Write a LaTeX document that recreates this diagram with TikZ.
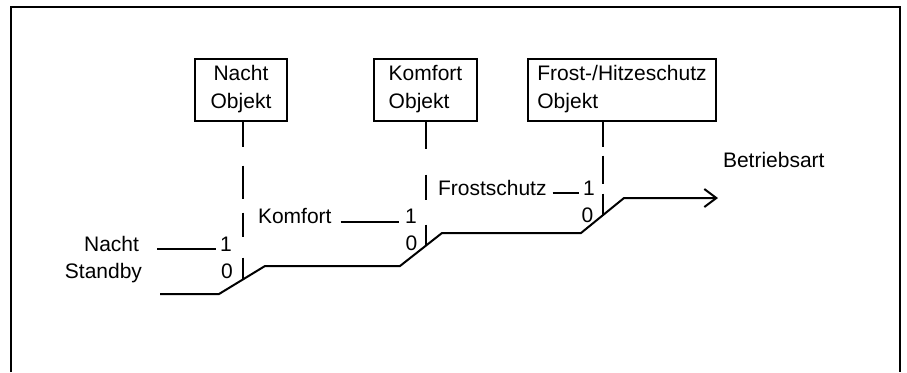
\documentclass[tikz,border=0pt]{standalone}
\usepackage{fontspec}
\setmainfont{Liberation Sans}
\usetikzlibrary{arrows.meta}
\begin{document}
\begin{tikzpicture}[x=0.5pt,y=-0.5pt,line width=1pt,
        objbox/.style={draw,rectangle,inner sep=0pt,minimum height=31pt,
                       font=\fontsize{10.5}{14}\selectfont},
        lbl/.style={inner sep=0pt,font=\fontsize{10.5}{14}\selectfont}]
        \useasboundingbox (0,0) rectangle (907,372);

        % draw the frame, open at the bottom
        \draw[line width=1.25pt] (11,372) -- (11,7) -- (900,7) -- (900,372);

        % draw the object boxes
        \node[objbox,align=center,minimum width=46pt] (nachtobj) at (241,89.5) {Nacht\\Objekt};
        \node[objbox,align=left,minimum width=51.5pt] (komfortobj) at (425.5,89.5) {Komfort\\Objekt};
        \node[objbox,align=left,minimum width=94pt] (frostobj) at (622,89.5) {Frost-/Hitzeschutz\\Objekt};

        % draw the operating mode line with the three switches
        \draw[-{Straight Barb[length=6pt,width=9pt]}] (160,294) -- (219,294)
                -- coordinate[pos=0.52] (sw1) (265,266) -- (400,266)
                -- coordinate[pos=0.62] (sw2) (442,233) -- (581,233)
                -- coordinate[pos=0.52] (sw3) (624,198) -- (718,198);
        \node[lbl,anchor=base west] (betrieb) at (722,167) {Betriebsart};

        % the inputs of each switch
        \node[lbl,anchor=base east] (nachtin) at (140,251) {Nacht};
        \node[lbl,anchor=base east] (standbyin) at (143,278) {Standby};
        \node[lbl,anchor=base west] (komfortin) at (257,223) {Komfort};
        \node[lbl,anchor=base west] (frostin) at (437,195) {Frostschutz};

        % the switch positions
        \foreach \n/\t/\x/\y in {
            a1/1/226/251,
            a0/0/227/278,
            b1/1/411/223,
            b0/0/411.5/250,
            c1/1/589/195,
            c0/0/587.5/222}
                \node[lbl,anchor=base] (\n) at (\x,\y) {\t};

        \draw ([shift={(17,-2)}]nachtin.base east) -- ([shift={(-3,-2)}]a1.base west);
        \draw ([shift={(8,-1)}]komfortin.base east) -- ([shift={(-5,-1)}]b1.base west);
        \draw ([shift={(5,-2)}]frostin.base east) -- ([shift={(-3,-2)}]c1.base west);

        % dashed lines from the objects to the switches
        \draw[dash pattern=on 12.5pt off 9.5pt on 16.5pt off 7pt on 12pt off 10.5pt]
                (sw1 |- nachtobj.south) -- (sw1);
        \draw[dash pattern=on 13.5pt off 13pt on 12.5pt off 12.5pt]
                (sw2 |- komfortobj.south) -- (sw2);
        \draw[dash pattern=on 12.5pt off 4.5pt on 14pt off 5pt]
                (sw3 |- frostobj.south) -- (sw3);
\end{tikzpicture}
\end{document}
